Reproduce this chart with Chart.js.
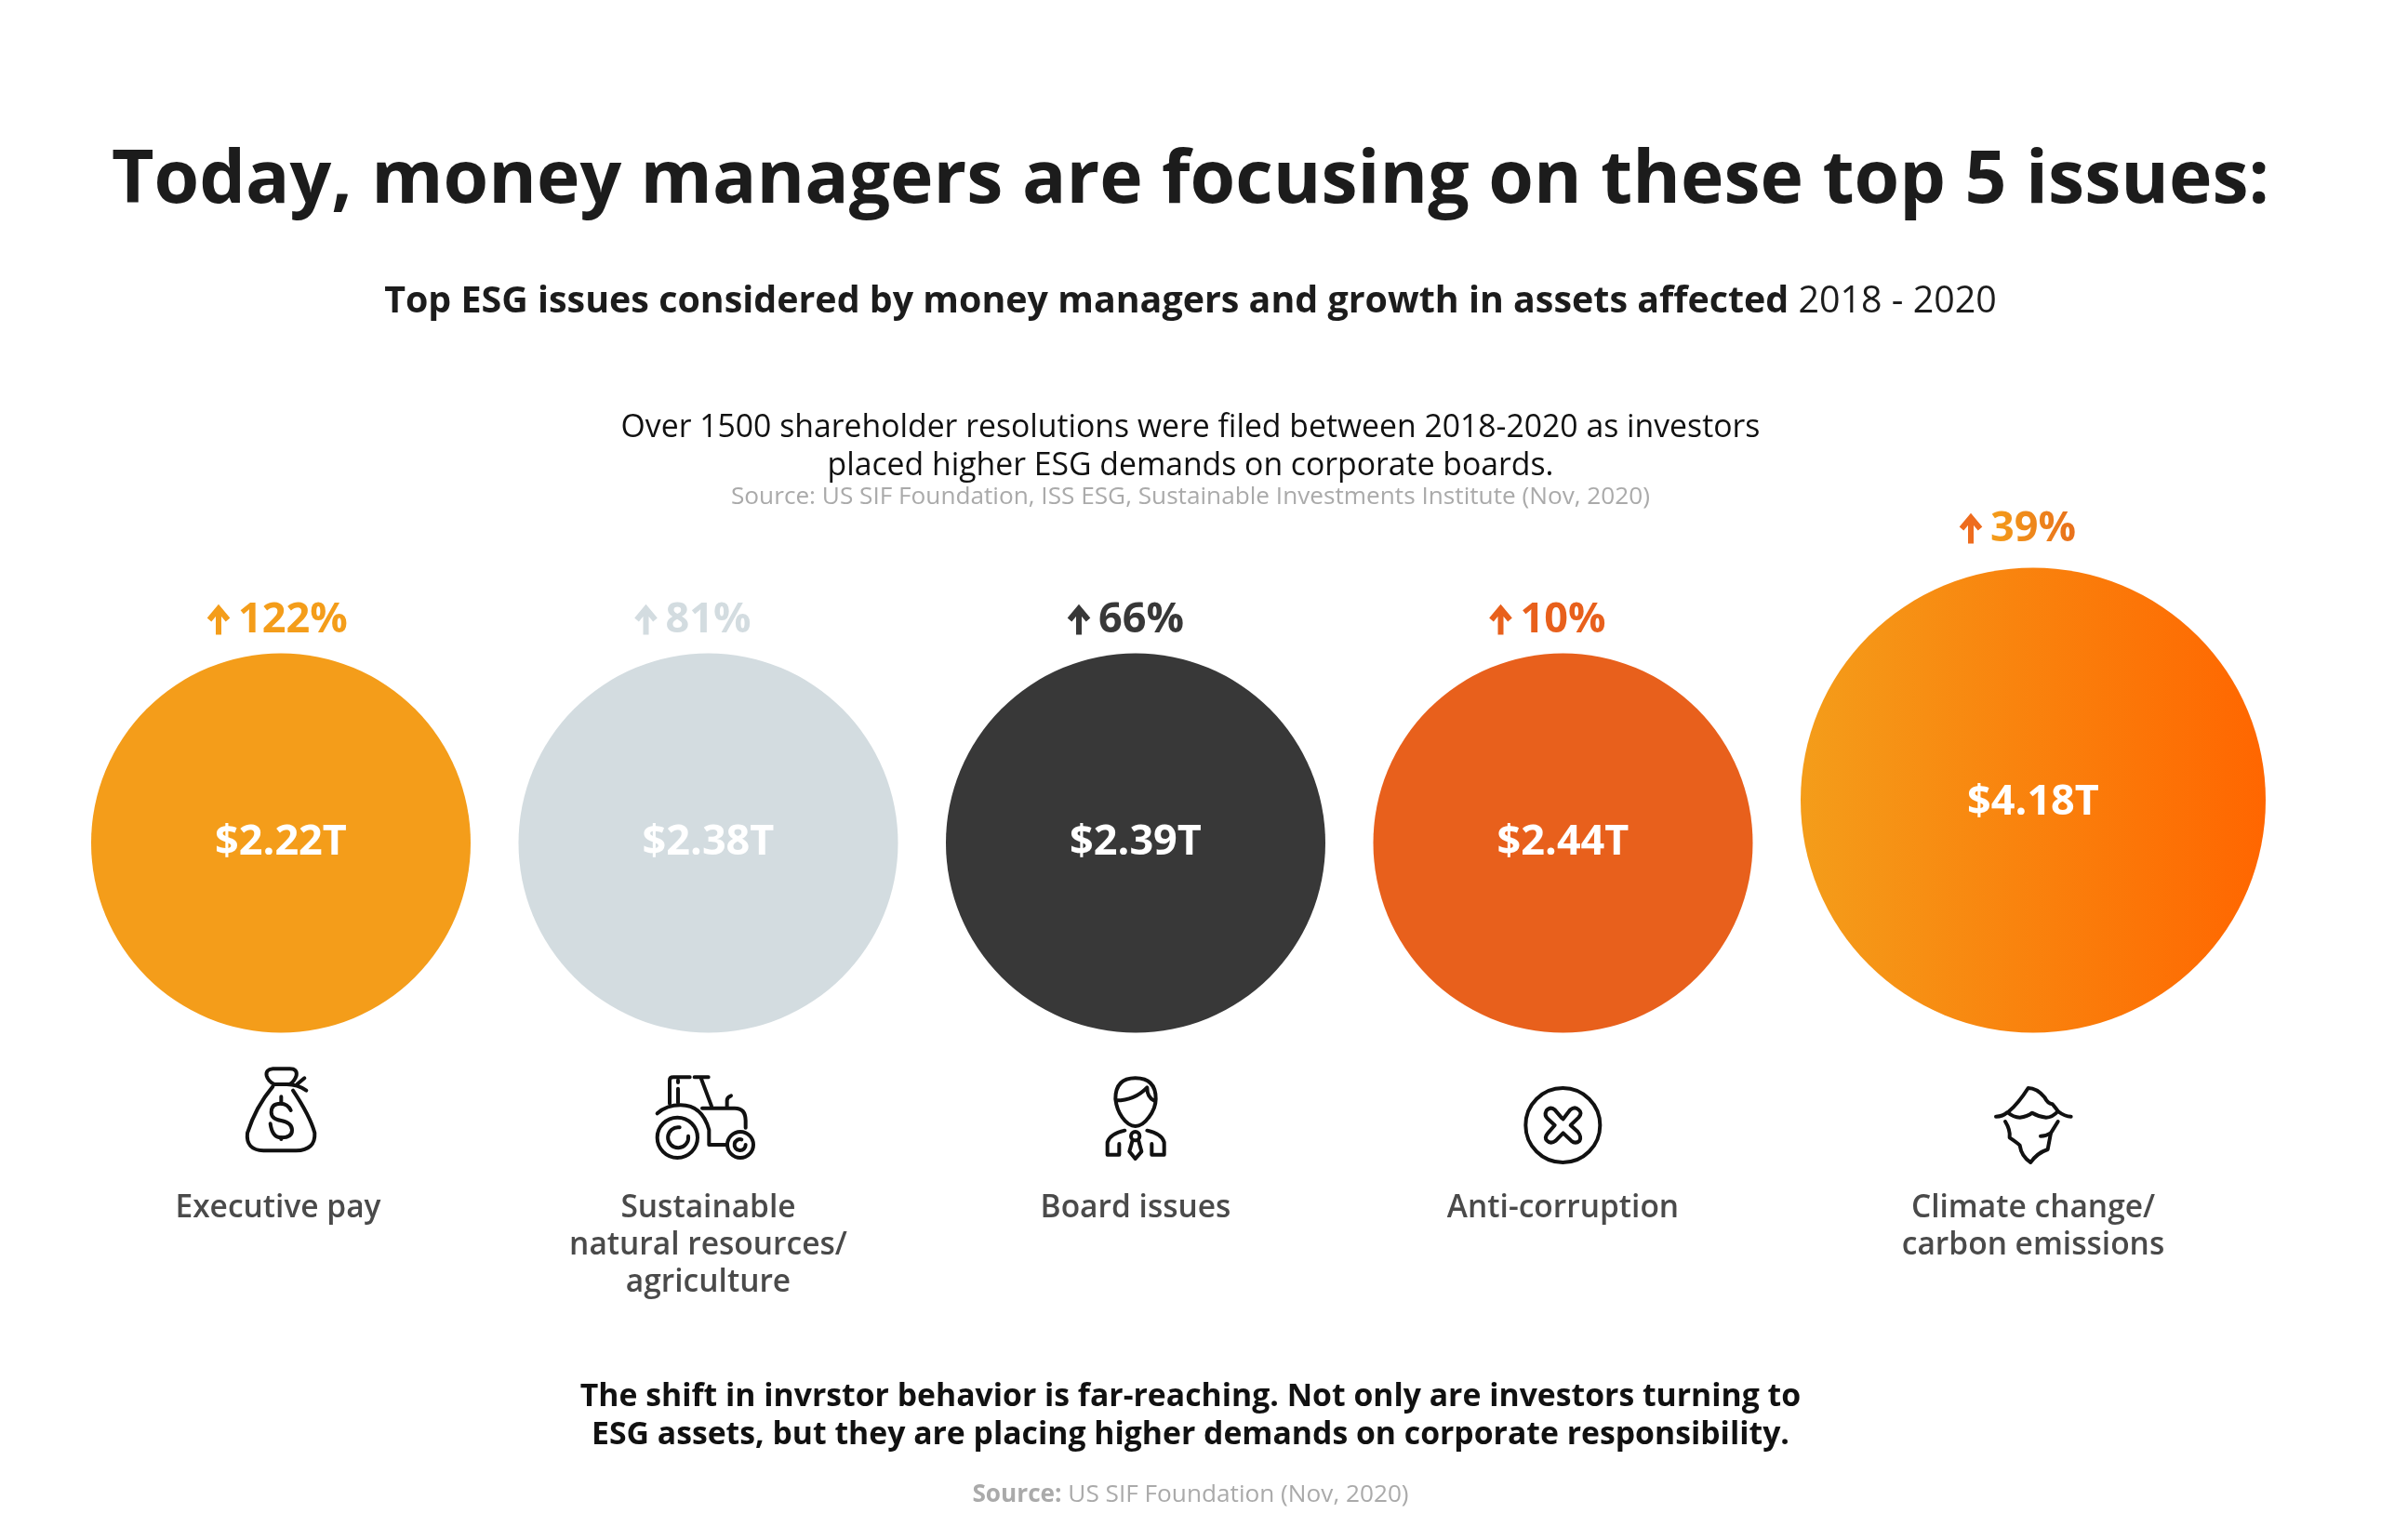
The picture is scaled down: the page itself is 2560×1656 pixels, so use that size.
<!DOCTYPE html>
<html>
<head>
<meta charset="utf-8">
<script src="https://cdn.jsdelivr.net/npm/chart.js@4/dist/chart.umd.min.js"></script>
<style>
  html, body { margin: 0; padding: 0; background: #fff; }
  #page { position: relative; width: 2560px; height: 1656px; overflow: hidden; font-family: "Open Sans", sans-serif; }
  #page canvas { position: absolute; left: 0; top: 0; }
  .line { position: absolute; left: 0; width: 2560px; text-align: center; white-space: nowrap; transform: translateY(-50%); }
  .icon { position: absolute; fill: none; stroke: #111; stroke-width: 12; stroke-linecap: round; stroke-linejoin: round; }
</style>
</head>
<body>
<div id="page">
  <canvas id="chart" width="2560" height="1656"></canvas>

  <div class="line" style="top:187px; font-size:78.7px; font-weight:700; color:#1c1c1c;">Today, money managers are focusing on these top 5 issues:</div>
  <div class="line" style="top:321px; font-size:39.4px; color:#1c1c1c;"><b>Top ESG issues considered by money managers and growth in assets affected</b> 2018 - 2020</div>
  <div class="line" style="top:457px; font-size:33.75px; color:#111;">Over 1500 shareholder resolutions were filed between 2018-2020 as investors</div>
  <div class="line" style="top:498px; font-size:33.75px; color:#111;">placed higher ESG demands on corporate boards.</div>
  <div class="line" style="top:532px; font-size:26.2px; color:#aaa;">Source: US SIF Foundation, ISS ESG, Sustainable Investments Institute (Nov, 2020)</div>
  <div class="line" style="top:1499px; font-size:33.75px; font-weight:700; color:#111;">The shift in invrstor behavior is far-reaching. Not only are investors turning to</div>
  <div class="line" style="top:1540px; font-size:33.75px; font-weight:700; color:#111;">ESG assets, but they are placing higher demands on corporate responsibility.</div>
  <div class="line" style="top:1605px; font-size:26.2px; color:#aaa;"><b>Source:</b> US SIF Foundation (Nov, 2020)</div>

  <!-- money bag -->
  <svg class="icon" style="left:240px; top:1140px;" width="120" height="110" viewBox="0 0 360 330">
    <path d="M160 28 H215 Q240 28 236 50 Q230 68 215 78 H165 Q145 68 140 50 Q136 30 160 28 Z"/>
    <path d="M205 78 Q240 78 268 98 M238 78 L262 58"/>
    <path d="M160 85 Q105 150 78 235 Q72 290 130 292 H235 Q298 290 295 235 Q280 180 225 98"/>
    <path d="M218 162 Q208 140 185 140 Q155 140 155 168 Q155 190 187 195 Q222 202 222 226 Q222 250 187 250 Q158 250 152 205"/>
    <path d="M187 118 V140 M187 250 V255"/>
  </svg>
  <!-- tractor -->
  <svg class="icon" style="left:700px; top:1150px;" width="130" height="110" viewBox="0 0 390 330">
    <circle cx="85" cy="220" r="65"/>
    <path d="M92 187 A33 33 0 1 0 120 215"/>
    <circle cx="288" cy="243" r="42"/>
    <path d="M292 226 A18 18 0 1 0 305 243"/>
    <path d="M20 142 Q50 115 95 115 Q165 115 187 195 V243 H245"/>
    <path d="M60 110 V35 Q60 25 72 25 H125 M87 62 V108 M87 35 V42"/>
    <path d="M140 25 H185 M160 25 L195 118"/>
    <path d="M165 125 H270 Q305 125 305 165 V188"/>
    <path d="M245 120 V100 Q245 90 258 85"/>
  </svg>
  <!-- board member -->
  <svg class="icon" style="left:1170px; top:1150px;" width="110" height="110" viewBox="0 0 330 330">
    <path d="M152 28 Q88 28 88 95 Q92 130 110 155 Q130 183 152 183 Q175 183 195 155 Q218 125 218 95 Q218 28 152 28 Z"/>
    <path d="M90 100 Q150 100 190 58 Q190 90 212 100"/>
    <path d="M118 197 Q70 208 62 235 V275 H100 V240"/>
    <path d="M190 197 Q238 208 245 235 V275 H205 V240"/>
    <circle cx="152" cy="215" r="14"/>
    <path d="M142 232 L133 265 L152 288 L172 265 L163 232"/>
  </svg>
  <!-- anti-corruption -->
  <svg class="icon" style="left:1630px; top:1160px;" width="110" height="110" viewBox="0 0 330 330">
    <circle cx="151" cy="150" r="120"/>
    <path d="M148 127 L125 100 Q110 88 98 103 Q90 118 103 130 L125 150 L103 175 Q90 190 100 200 Q112 212 128 200 L152 175 L178 200 Q192 212 205 200 Q212 188 200 172 L176 150 L202 125 Q215 110 202 100 Q190 88 175 100 L152 130"/>
  </svg>
  <!-- iceberg -->
  <svg class="icon" style="left:2140px; top:1160px;" width="110" height="110" viewBox="0 0 330 330">
    <path d="M60 105 Q90 80 122 30 Q150 30 175 60 Q185 80 200 82 Q215 100 218 105"/>
    <path d="M18 122 Q40 122 55 108 Q75 125 95 125 Q120 122 135 110 Q155 122 180 125 Q200 125 218 105 Q240 122 260 122"/>
    <path d="M48 138 Q65 165 62 190 Q85 205 95 215 Q100 250 130 270 Q150 240 185 228 L195 175 L218 138"/>
    <path d="M162 185 Q180 185 195 175"/>
  </svg>
</div>

<script>
// DATA
const categories = [
    ["Executive pay"],
    ["Sustainable", "natural resources/", "agriculture"],
    ["Board issues"],
    ["Anti-corruption"],
    ["Climate change/", "carbon emissions"]
];
const assetsTrillions = [2.22, 2.38, 2.39, 2.44, 4.18];
const growthPercent = [122, 81, 66, 10, 39];

// STYLE
const circleColors = ['#F49D1A', '#D3DCE0', '#383838', '#E8601C', null];
const growthColors = ['#F49D1A', '#D3DCE0', '#383838', '#E8601C', null];
const arrowColors = ['#F49D1A', '#D3DCE0', '#383838', '#E8601C', '#EE6C1E'];
const gradientStops = ['#F49D1A', '#FF6600'];
const growthTextStops = ['#F49D1A', '#E8701C'];

// the source does not scale circles by area, only the top issue is drawn larger
function radiusFor(value) {
    return value > 4 ? 250 : 204;
}

// circles stand side by side on one baseline
const leftEdge = 98;
const circleGap = 51.5;
const baseline = 1110.5;

function buildPoints() {
    let cursor = leftEdge;
    return assetsTrillions.map(value => {
        const r = radiusFor(value);
        const point = { x: cursor + r, y: baseline - r, r: r };
        cursor += 2 * r + circleGap;
        return point;
    });
}

function fillFor(c) {
    if (!c.raw) return gradientStops[0];
    if (circleColors[c.dataIndex]) return circleColors[c.dataIndex];
    const cx = c.chart.scales.x.getPixelForValue(c.raw.x);
    // scales are not fitted yet on the very first resolve
    if (!Number.isFinite(cx)) return gradientStops[0];
    const g = c.chart.ctx.createLinearGradient(cx - c.raw.r, 0, cx + c.raw.r, 0);
    g.addColorStop(0, gradientStops[0]);
    g.addColorStop(1, gradientStops[1]);
    return g;
}

function drawArrow(ctx, x, y, color) {
    // small up arrow in front of the growth figure
    ctx.strokeStyle = color;
    ctx.lineWidth = 6;
    ctx.lineCap = 'butt';
    ctx.lineJoin = 'miter';
    ctx.beginPath();
    ctx.moveTo(x, y + 17);
    ctx.lineTo(x, y - 11);
    ctx.moveTo(x - 10, y + 1);
    ctx.lineTo(x, y - 11);
    ctx.lineTo(x + 10, y + 1);
    ctx.stroke();
}

// labels follow the bubble elements
const labelPlugin = {
    id: 'labels',
    afterDatasetsDraw(chart) {
        const ctx = chart.ctx;
        const elements = chart.getDatasetMeta(0).data;
        ctx.save();
        ctx.textBaseline = 'middle';
        elements.forEach((el, i) => {
            const r = radiusFor(assetsTrillions[i]);

            ctx.textAlign = 'center';
            ctx.fillStyle = '#fff';
            ctx.font = '700 45px "Open Sans"';
            ctx.fillText('$' + assetsTrillions[i].toFixed(2) + 'T', el.x, el.y + (r > 204 ? 3 : 0));

            // arrow and figure sit left aligned from a fixed point over the circle
            const text = growthPercent[i] + '%';
            const rowY = el.y - r - (r > 204 ? 44 : 38) + 3;
            const textX = el.x - 46 + (i === 2 ? 6 : 0);
            ctx.font = '700 45px "Open Sans"';
            drawArrow(ctx, textX - 21, rowY - 2, arrowColors[i]);
            ctx.textAlign = 'left';
            if (growthColors[i]) {
                ctx.fillStyle = growthColors[i];
            } else {
                const g = ctx.createLinearGradient(textX, 0, textX + ctx.measureText(text).width, 0);
                g.addColorStop(0, growthTextStops[0]);
                g.addColorStop(1, growthTextStops[1]);
                ctx.fillStyle = g;
            }
            ctx.fillText(text, textX, rowY);

            ctx.textAlign = 'center';
            ctx.fillStyle = '#4a4a4a';
            ctx.font = '600 33.5px "Open Sans"';
            categories[i].forEach((line, n) => {
                ctx.fillText(line, el.x + (i === 0 ? -3 : 0), 1299 + n * 40);
            });
        });
        ctx.restore();
    }
};

new Chart(document.getElementById('chart'), {
    type: 'bubble',
    data: {
        labels: categories.map(c => c.join(' ')),
        datasets: [{
            label: 'Assets affected ($T)',
            data: buildPoints(),
            borderWidth: 0,
            hoverBorderWidth: 0,
            backgroundColor: fillFor
        }]
    },
    options: {
        responsive: false,
        animation: false,
        devicePixelRatio: 1,
        // bubbles would otherwise shrink the chart area by their radius
        layout: { padding: 0, autoPadding: false },
        clip: false,
        scales: {
            x: { type: 'linear', display: false, min: 0, max: 2560 },
            y: { type: 'linear', display: false, min: 0, max: 1656, reverse: true }
        },
        plugins: { legend: { display: false }, tooltip: { enabled: false }, title: { display: false } }
    },
    plugins: [labelPlugin]
});
</script>
</body>
</html>
